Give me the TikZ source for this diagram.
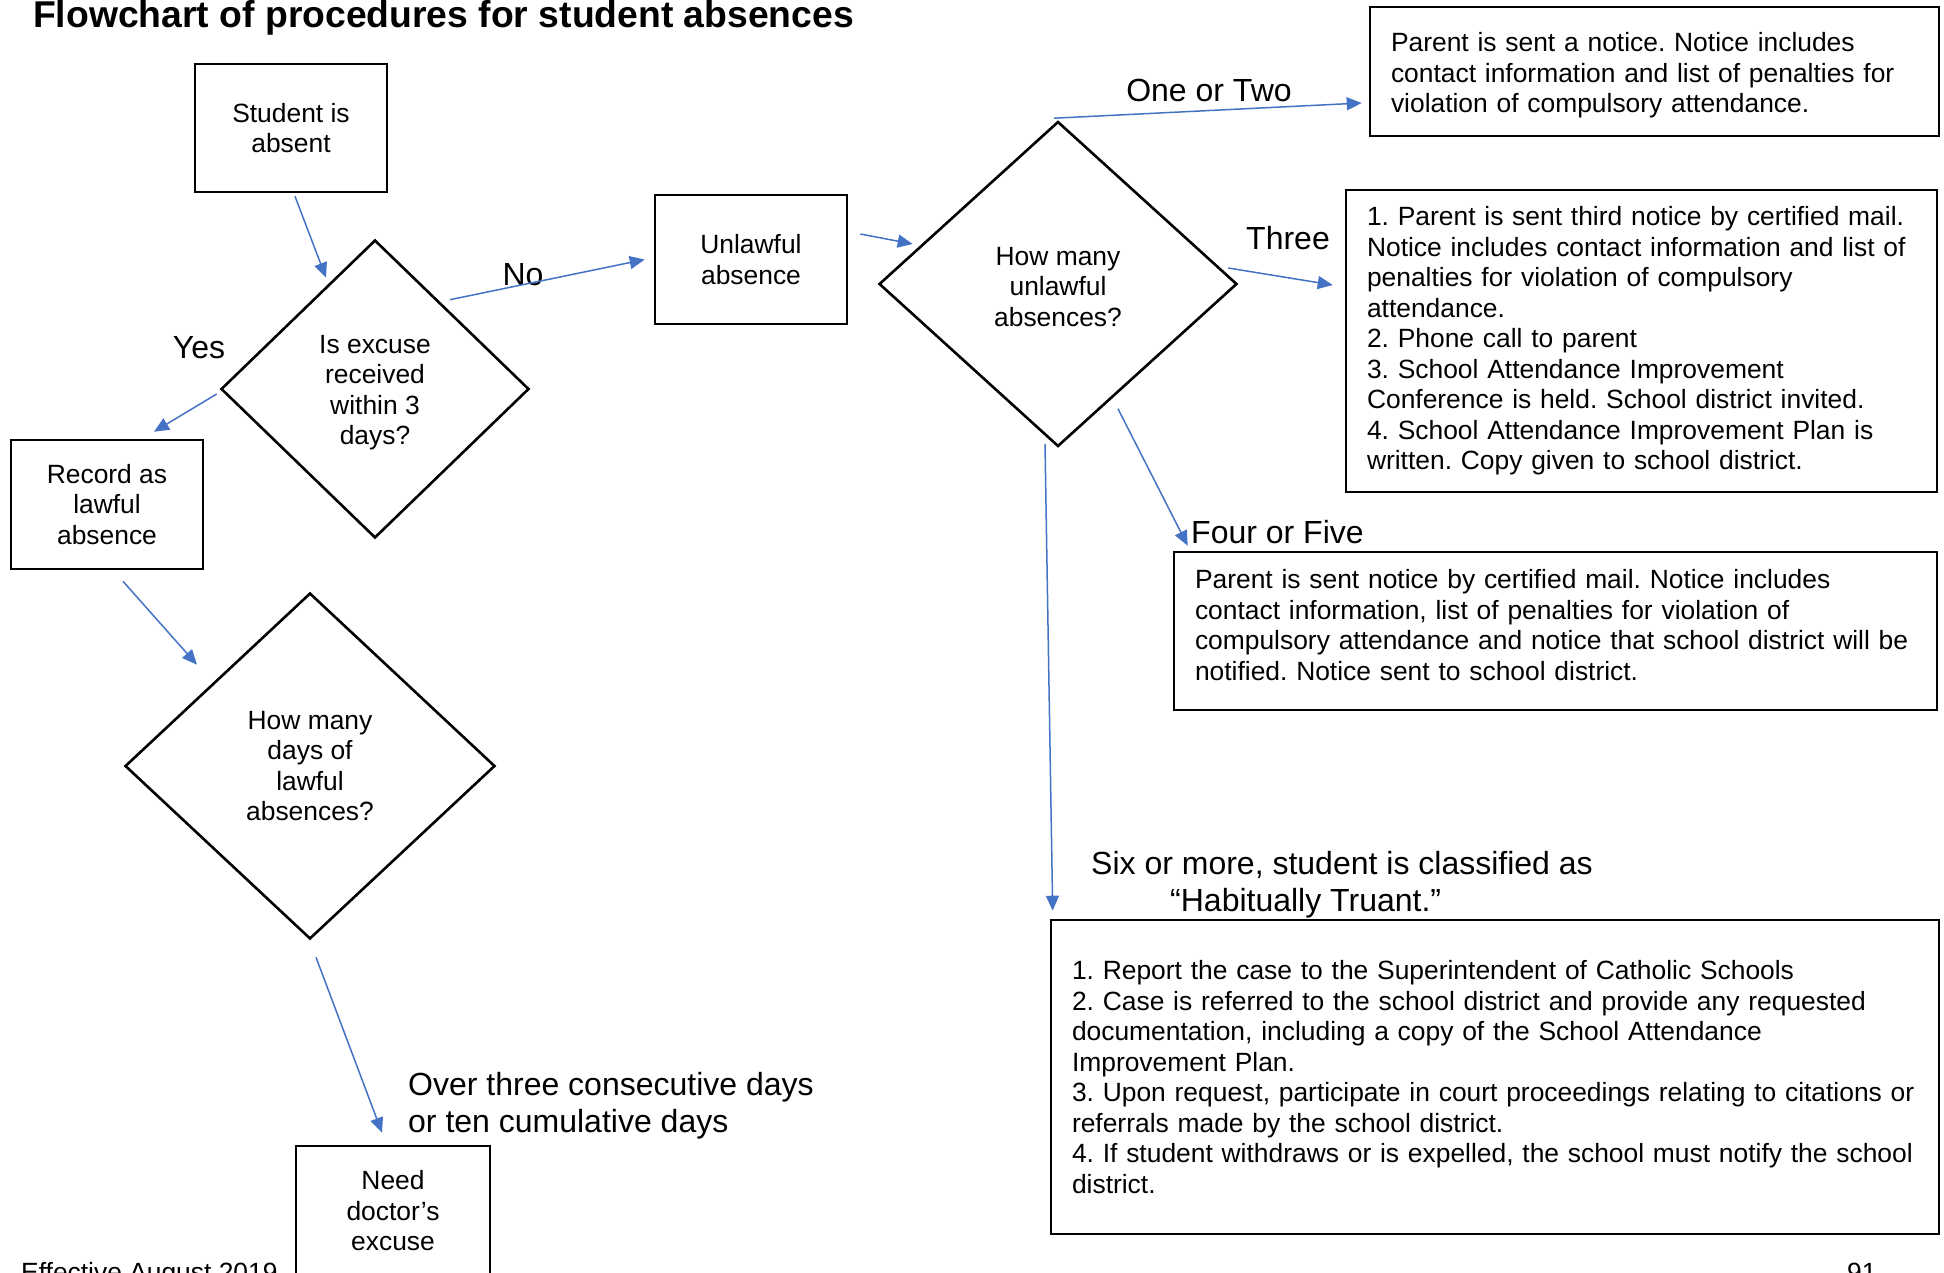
\documentclass[tikz,border=0pt]{standalone}
\usepackage{fontspec}
\setmainfont{Liberation Sans}
\usetikzlibrary{shapes.geometric,arrows.meta,calc}
\definecolor{arrowblue}{HTML}{4472C4}
\frenchspacing
\newcommand{\myBodyFont}{\fontsize{26.4}{30.5}\selectfont}
\newcommand{\myLabFont}{\fontsize{32}{37}\selectfont}
\newcommand{\myTitleFont}{\fontsize{37.3}{44}\selectfont\bfseries}
\tikzset{
  box/.style={draw, line width=2.6pt, inner ysep=4pt, font=\myBodyFont\frenchspacing},
  lbox/.style={box, align=left, inner xsep=21pt},
  cbox/.style={box, align=center, inner xsep=4pt},
  dec/.style={draw, shape=diamond, line width=2.6pt, inner sep=0pt, align=center, font=\myBodyFont},
  conn/.style={draw=arrowblue, line width=1.5pt, -{Triangle[length=15pt,width=13pt]}},
  lab/.style={font=\myLabFont, inner sep=0pt},
}
\begin{document}
\begin{tikzpicture}[x=1pt,y=-1pt]
\useasboundingbox (0,0) rectangle (1944,1272);
\clip (0,0) rectangle (1944,1272);

% title and footer
\node[anchor=base west, inner sep=0pt, font=\myTitleFont] (title) at (33,27) {Flowchart of procedures for student absences};
\node[anchor=base west, inner sep=0pt, font=\myBodyFont] (foot) at (21,1281) {Effective August 2019};
\node[anchor=base west, inner sep=0pt, font=\myBodyFont] (page) at (1847,1281) {91};

% boxes
\node[cbox, minimum width=192pt, minimum height=128pt] (stud) at (291,128) {Student is\\absent};
\node[dec, minimum width=308pt, minimum height=298pt] (q1) at (375,389) {\rule{0pt}{25.3pt}Is excuse\\received\\within 3\\days?};
\node[cbox, minimum width=192pt, minimum height=129pt] (rec) at (107,504.5) {Record as\\lawful\\absence};
\node[cbox, minimum width=192pt, minimum height=129pt] (unl) at (751,259.5) {Unlawful\\absence};
\node[dec, minimum width=358pt, minimum height=325pt] (q2) at (1058,284) {\rule{0pt}{24pt}How many\\unlawful\\absences?};
\node[dec, minimum width=370pt, minimum height=346pt] (q3) at (310,766) {How many\\days of\\lawful\\absences?};
\node[cbox, minimum width=194pt, minimum height=130pt] (doc) at (393,1211) {Need\\doctor’s\\excuse};

\node[lbox, minimum width=569pt, minimum height=129pt, text width=527pt] (b1) at (1654.5,71.5)
 {\rule{0pt}{27.3pt}Parent is sent a notice. Notice includes\\contact information and list of penalties for\\violation of compulsory attendance.};
\node[lbox, minimum width=591pt, minimum height=302pt, text width=549pt] (b3) at (1641.5,341)
 {1. Parent is sent third notice by certified mail.\\Notice includes contact information and list of\\penalties for violation of compulsory\\attendance.\\2. Phone call to parent\\3. School Attendance Improvement\\Conference is held. School district invited.\\4. School Attendance Improvement Plan is\\written. Copy given to school district.};
\node[lbox, minimum width=763pt, minimum height=158pt, text width=721pt] (b45) at (1555.5,631)
 {Parent is sent notice by certified mail. Notice includes\\contact information, list of penalties for violation of\\compulsory attendance and notice that school district will be\\notified. Notice sent to school district.\rule[-12pt]{0pt}{0pt}};
\node[lbox, minimum width=888pt, minimum height=314pt, text width=846pt] (b6) at (1495,1077)
 {1. Report the case to the Superintendent of Catholic Schools\\2. Case is referred to the school district and provide any requested\\documentation, including a copy of the School Attendance\\Improvement Plan.\\3. Upon request, participate in court proceedings relating to citations or\\referrals made by the school district.\\4. If student withdraws or is expelled, the school must notify the school\\district.};

% labels
\node[lab] (lyes) at (199,348) {Yes};
\node[lab] (lno) at (523,275) {No};
\node[lab] (l12) at (1209,90) {One or Two};
\node[lab] (l3) at (1288,238) {Three};
\node[lab, anchor=west] (l45) at (1191,532) {Four or Five};
\node[lab, anchor=north west, align=left] (l6) at (1091,851) {Six or more, student is classified as\\\hspace*{79pt}“Habitually Truant.”};
\node[lab, anchor=north west, align=left] (lover) at (408,1072) {Over three consecutive days\\or ten cumulative days};

% connectors
\draw[conn] ($(stud.south)+(4,3)$) -- ($(q1.north)+(-49,39)$);
\draw[conn] ($(q1.west)+(-3,5)$) -- ($(rec.north)+(47,-7)$);
\draw[conn] ($(q1.north)+(75,61)$) -- ($(unl.west)+(-9,0)$);
\draw[conn] ($(unl.east)+(12,-25.5)$) -- ($(q2.west)+(35,-40)$);
\draw[conn] ($(q2.north)+(-4,-2)$) -- ($(b1.west)+(-7,31.5)$);
\draw[conn] ($(q2.east)+(-10,-16)$) -- ($(b3.west)+(-12,-56)$);
\draw[conn] ($(q2.south)+(60,-39)$) -- ($(b45.north west)+(15,-5)$);
\draw[conn] ($(q2.south)+(-13,-4)$) -- ($(b6.north west)+(3,-8)$);
\draw[conn] ($(rec.south)+(16,11)$) -- ($(q3.north)+(-113,73)$);
\draw[conn] ($(q3.south)+(6,17)$) -- ($(doc.north)+(-11,-12)$);
\end{tikzpicture}
\end{document}
